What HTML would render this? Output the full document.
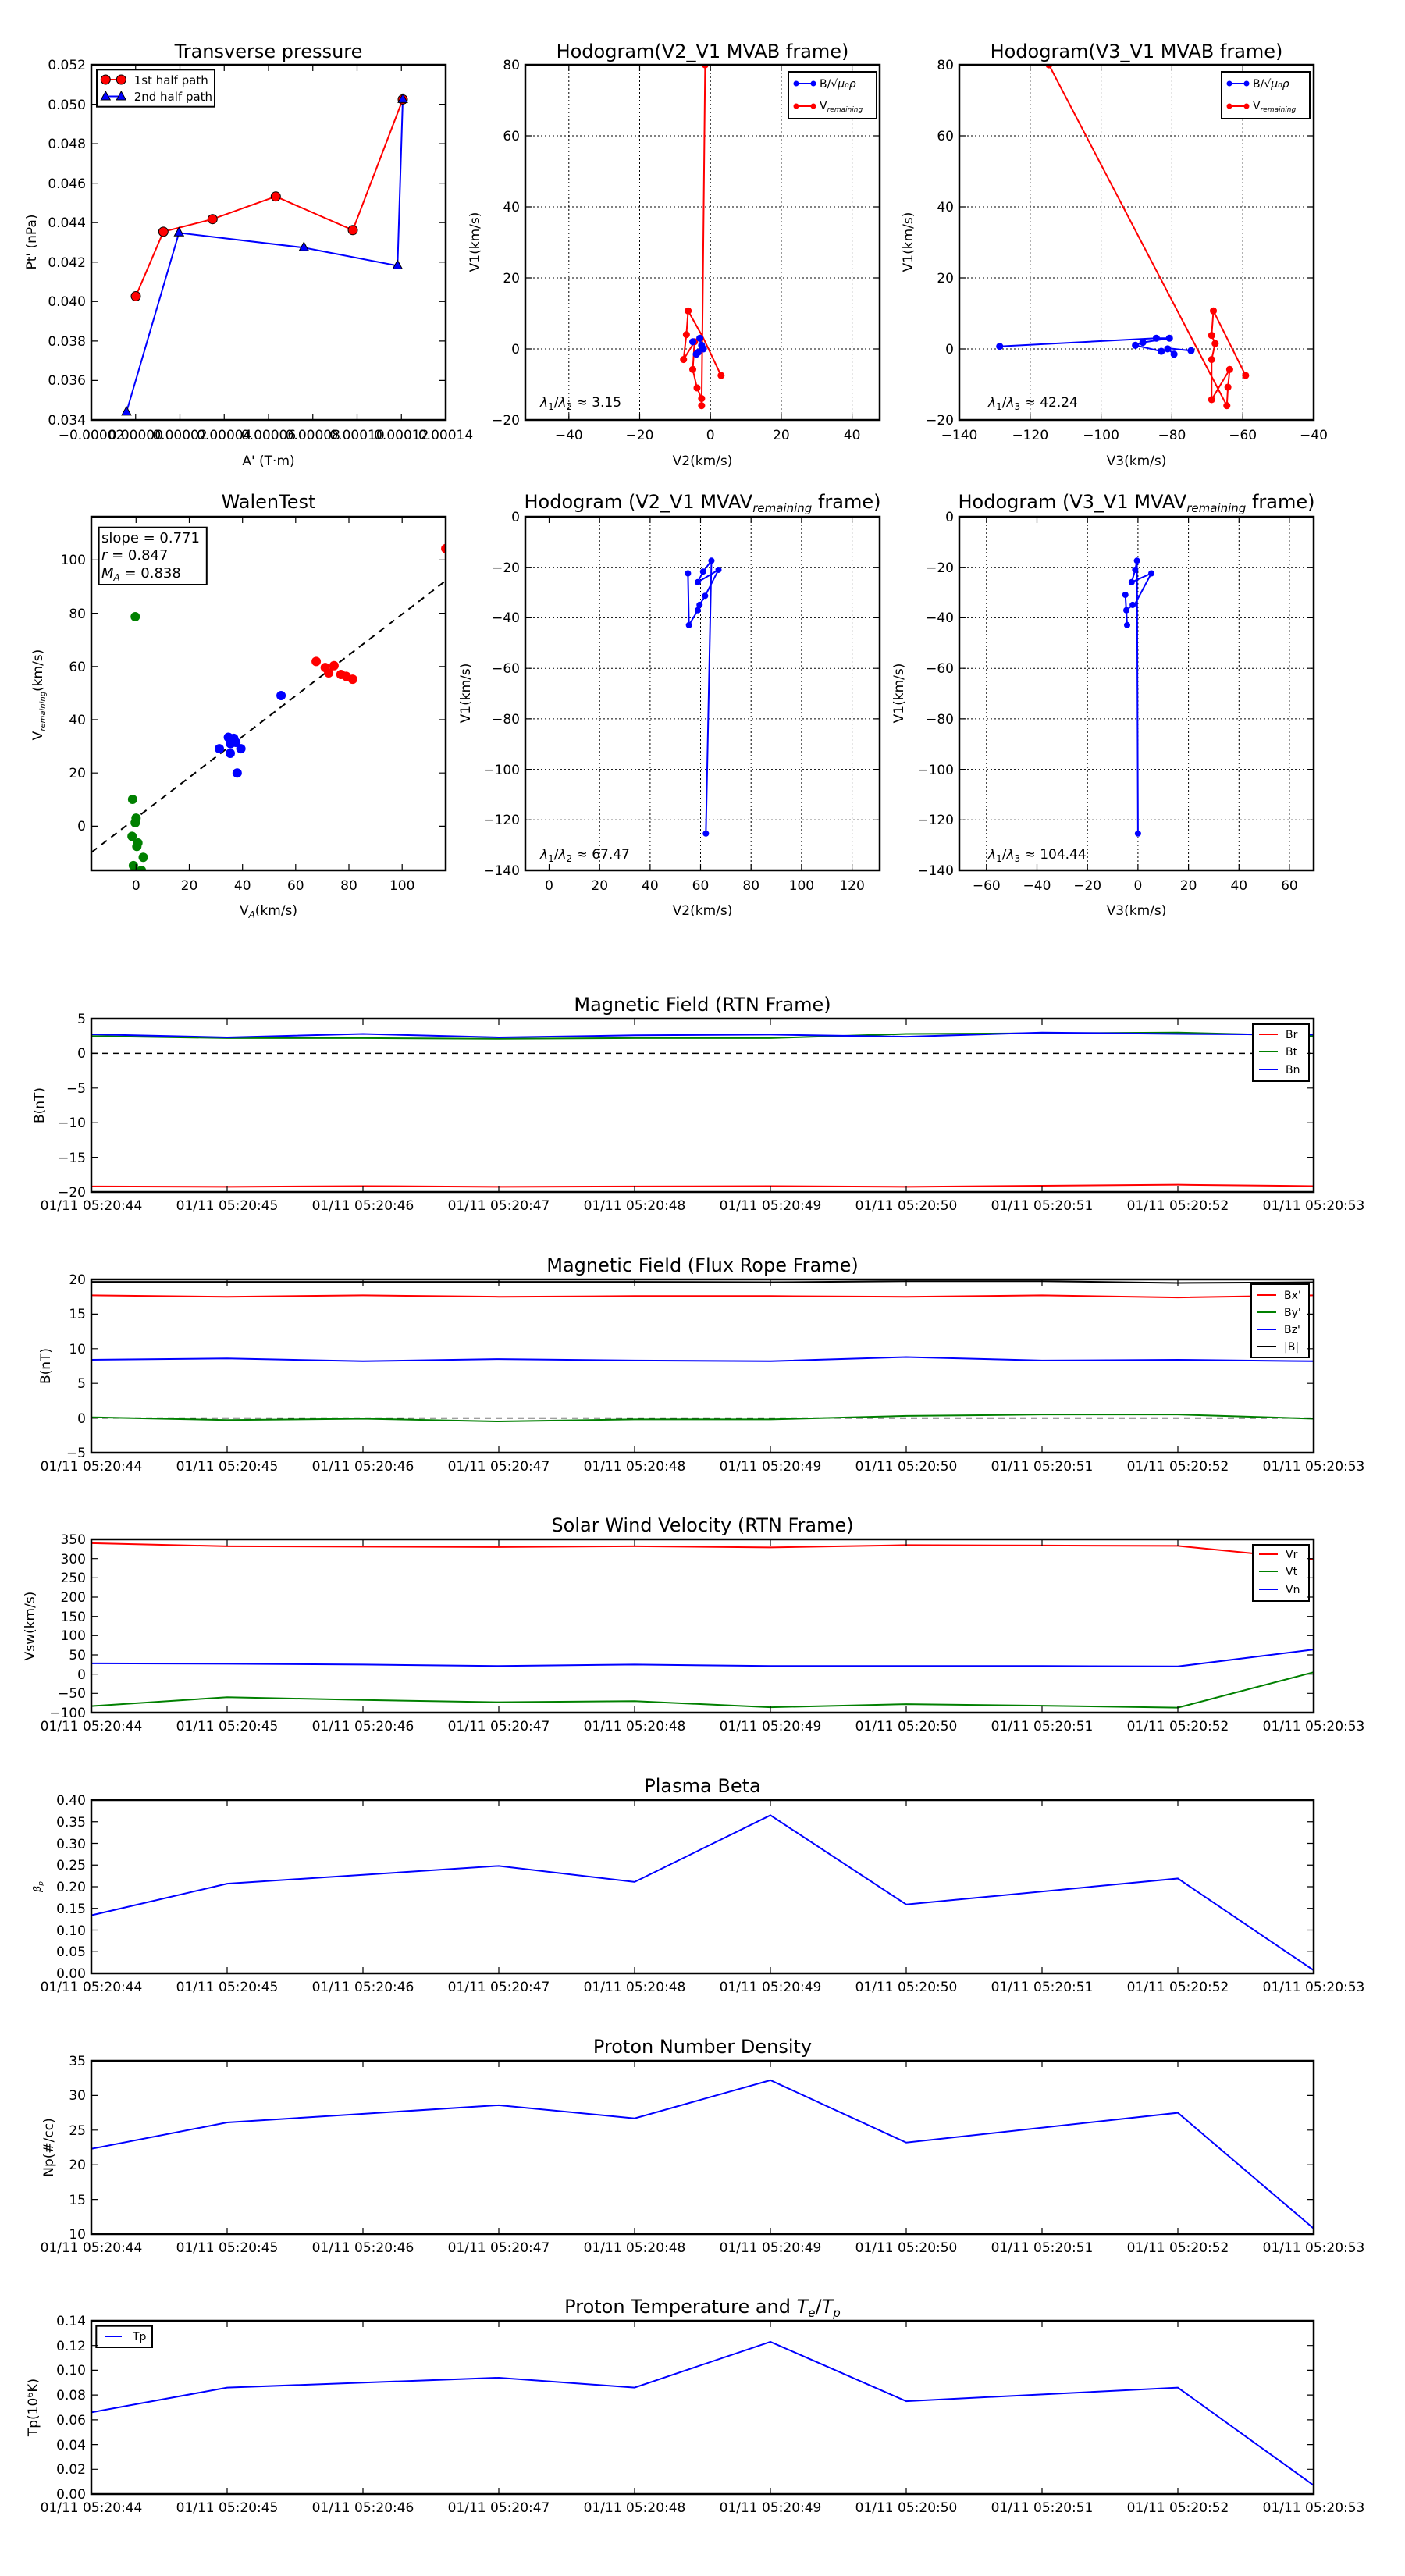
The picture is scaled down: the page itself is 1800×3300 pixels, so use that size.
<!DOCTYPE html>
<html><head><meta charset="utf-8"><style>
html,body{margin:0;padding:0;background:#fff}
svg{display:block}
text{font-family:"DejaVu Sans","Liberation Sans",sans-serif;fill:#000}
.t{font-size:17px}
.ti{font-size:24px}
.ax{fill:none;stroke:#000;stroke-width:2.5}
.tk{stroke:#000;stroke-width:1.2;fill:none}
.gr{stroke:#000;stroke-width:1;stroke-dasharray:2,3;fill:none}
.dl{fill:none;stroke-width:2;vector-effect:non-scaling-stroke}
</style></head><body>
<svg width="1800" height="3300" viewBox="0 0 1800 3300" xmlns="http://www.w3.org/2000/svg">
<defs>
<clipPath id="c4"><rect x="117" y="662" width="454" height="453"/></clipPath>
<clipPath id="c2"><rect x="673" y="83" width="454" height="455"/></clipPath>
<clipPath id="c3"><rect x="1229" y="83" width="454" height="455"/></clipPath>
</defs>

<!-- ============ PLOT 1: Transverse pressure ============ -->
<text class="ti" x="344" y="74" text-anchor="middle">Transverse pressure</text>
<path class="tk" d="M173.75,538v-8M230.5,538v-8M287.25,538v-8M344,538v-8M400.75,538v-8M457.5,538v-8M514.25,538v-8M173.75,83v8M230.5,83v8M287.25,83v8M344,83v8M400.75,83v8M457.5,83v8M514.25,83v8
M117,487.4h8M117,436.9h8M117,386.3h8M117,335.8h8M117,285.2h8M117,234.7h8M117,184.1h8M117,133.6h8M571,487.4h-8M571,436.9h-8M571,386.3h-8M571,335.8h-8M571,285.2h-8M571,234.7h-8M571,184.1h-8M571,133.6h-8"/>
<g class="t" text-anchor="end">
<text x="110" y="544">0.034</text><text x="110" y="493">0.036</text><text x="110" y="443">0.038</text><text x="110" y="392">0.040</text><text x="110" y="342">0.042</text><text x="110" y="291">0.044</text><text x="110" y="241">0.046</text><text x="110" y="190">0.048</text><text x="110" y="140">0.050</text><text x="110" y="89">0.052</text>
</g>
<g class="t" text-anchor="middle">
<text x="117" y="563">−0.00002</text><text x="173.75" y="563">0.00000</text><text x="230.5" y="563">0.00002</text><text x="287.25" y="563">0.00004</text><text x="344" y="563">0.00006</text><text x="400.75" y="563">0.00008</text><text x="457.5" y="563">0.00010</text><text x="514.25" y="563">0.00012</text><text x="571" y="563">0.00014</text>
</g>
<text class="t" x="344" y="596" text-anchor="middle">A' (T·m)</text>
<text class="t" x="46" y="310" text-anchor="middle" transform="rotate(-90 46 310)">Pt' (nPa)</text>
<polyline fill="none" stroke="#f00" stroke-width="2" points="174,379.5 209.3,296.9 272.3,280.7 353.3,251.7 452,294.8 516,127.4"/>
<polyline fill="none" stroke="#00f" stroke-width="2" points="162,527.9 229.3,298.3 389.3,317.3 509.3,340.4 516,127.4"/>
<g fill="#f00" stroke="#000" stroke-width="1">
<circle cx="174" cy="379.5" r="6"/><circle cx="209.3" cy="296.9" r="6"/><circle cx="272.3" cy="280.7" r="6"/><circle cx="353.3" cy="251.7" r="6"/><circle cx="452" cy="294.8" r="6"/><circle cx="516" cy="127.4" r="6"/>
</g>
<g fill="#00f" stroke="#000" stroke-width="1">
<polygon points="162,520.9 168,531.9 156,531.9"/><polygon points="229.3,291.3 235.3,302.3 223.3,302.3"/><polygon points="389.3,310.3 395.3,321.3 383.3,321.3"/><polygon points="509.3,333.4 515.3,344.4 503.3,344.4"/><polygon points="516,120.4 522,131.4 510,131.4"/>
</g>
<rect x="124" y="89.3" width="151" height="47.4" fill="#fff" stroke="#000" stroke-width="2"/>
<line x1="135.3" y1="102" x2="155.3" y2="102" stroke="#f00" stroke-width="2"/>
<circle cx="135.3" cy="102" r="6" fill="#f00" stroke="#000"/><circle cx="155.3" cy="102" r="6" fill="#f00" stroke="#000"/>
<line x1="135.3" y1="123.5" x2="155.3" y2="123.5" stroke="#00f" stroke-width="2"/>
<polygon points="135.3,117 141.3,128 129.3,128" fill="#00f" stroke="#000"/><polygon points="155.3,117 161.3,128 149.3,128" fill="#00f" stroke="#000"/>
<text x="171.7" y="108" style="font-size:15px">1st half path</text>
<text x="171.7" y="129" style="font-size:15px">2nd half path</text>
<rect class="ax" x="117" y="83" width="454" height="455"/>

<!-- ============ PLOT 2: Hodogram V2_V1 MVAB ============ -->
<text class="ti" x="900" y="74" text-anchor="middle">Hodogram(V2_V1 MVAB frame)</text>
<path class="gr" d="M728.8,83V538M819.5,83V538M910.2,83V538M1000.9,83V538M1091.6,83V538M673,174H1127M673,265H1127M673,356H1127M673,447H1127"/>
<g clip-path="url(#c2)">
<g transform="translate(910.2,446.9) scale(4.535,-4.548)">
<polyline class="dl" stroke="#f00" points="-1.5,80 -2.5,-16 -2.5,-14 -3.8,-11 -5,-5.8 -4.5,2 -7.6,-3 -6.8,4 -6.3,10.7 -2,3 3,-7.5"/>
<polyline class="dl" stroke="#00f" points="-5,2 -3,3 -2.5,1 -3.5,-1 -2,0 -4,-1.5 -2.5,0.5 -3,2.5"/>
<g fill="#f00"><ellipse cx="-1.5" cy="80" rx="1" ry="1"/><ellipse cx="-2.5" cy="-16" rx="1" ry="1"/><ellipse cx="-2.5" cy="-14" rx="1" ry="1"/><ellipse cx="-3.8" cy="-11" rx="1" ry="1"/><ellipse cx="-5" cy="-5.8" rx="1" ry="1"/><ellipse cx="-4.5" cy="2" rx="1" ry="1"/><ellipse cx="-7.6" cy="-3" rx="1" ry="1"/><ellipse cx="-6.8" cy="4" rx="1" ry="1"/><ellipse cx="-6.3" cy="10.7" rx="1" ry="1"/><ellipse cx="3" cy="-7.5" rx="1" ry="1"/></g>
<g fill="#00f"><ellipse cx="-5" cy="2" rx="1" ry="1"/><ellipse cx="-3" cy="3" rx="1" ry="1"/><ellipse cx="-2.5" cy="1" rx="1" ry="1"/><ellipse cx="-3.5" cy="-1" rx="1" ry="1"/><ellipse cx="-2" cy="0" rx="1" ry="1"/><ellipse cx="-4" cy="-1.5" rx="1" ry="1"/></g>
</g></g>
<path class="tk" d="M728.8,538v-8M819.5,538v-8M910.2,538v-8M1000.9,538v-8M1091.6,538v-8M728.8,83v8M819.5,83v8M910.2,83v8M1000.9,83v8M1091.6,83v8M673,174h8M673,265h8M673,356h8M673,447h8M1127,174h-8M1127,265h-8M1127,356h-8M1127,447h-8"/>
<g class="t" text-anchor="middle"><text x="728.8" y="563">−40</text><text x="819.5" y="563">−20</text><text x="910.2" y="563">0</text><text x="1000.9" y="563">20</text><text x="1091.6" y="563">40</text></g>
<g class="t" text-anchor="end"><text x="666" y="544">−20</text><text x="666" y="453">0</text><text x="666" y="362">20</text><text x="666" y="271">40</text><text x="666" y="180">60</text><text x="666" y="89">80</text></g>
<text class="t" x="900" y="596" text-anchor="middle">V2(km/s)</text>
<text class="t" x="614" y="310" text-anchor="middle" transform="rotate(-90 614 310)">V1(km/s)</text>
<text class="t" x="692" y="521"><tspan font-style="italic">λ</tspan><tspan font-size="12" dy="4">1</tspan><tspan dy="-4">/</tspan><tspan font-style="italic">λ</tspan><tspan font-size="12" dy="4">2</tspan><tspan dy="-4"> ≈ 3.15</tspan></text>
<rect x="1010" y="92" width="113" height="60" fill="#fff" stroke="#000" stroke-width="2"/>
<line x1="1020" y1="107" x2="1042" y2="107" stroke="#00f" stroke-width="2"/><circle cx="1020" cy="107" r="3.5" fill="#00f"/><circle cx="1042" cy="107" r="3.5" fill="#00f"/>
<line x1="1020" y1="136" x2="1042" y2="136" stroke="#f00" stroke-width="2"/><circle cx="1020" cy="136" r="3.5" fill="#f00"/><circle cx="1042" cy="136" r="3.5" fill="#f00"/>
<text x="1050" y="112" style="font-size:14px">B/√<tspan font-style="italic">μ₀ρ</tspan></text>
<text x="1050" y="140" style="font-size:14px">V<tspan font-size="9" font-style="italic" dy="3">remaining</tspan></text>
<rect class="ax" x="673" y="83" width="454" height="455"/>

<!-- ============ PLOT 3: Hodogram V3_V1 MVAB ============ -->
<text class="ti" x="1456" y="74" text-anchor="middle">Hodogram(V3_V1 MVAB frame)</text>
<path class="gr" d="M1319.8,83V538M1410.6,83V538M1501.4,83V538M1592.2,83V538M1229,174H1683M1229,265H1683M1229,356H1683M1229,447H1683"/>
<g clip-path="url(#c3)">
<g transform="translate(1864.6,446.9) scale(4.54,-4.548)">
<polyline class="dl" stroke="#f00" points="-114.7,80 -64.5,-16 -64.2,-10.8 -63.7,-5.8 -68.8,-14.3 -68.8,-3 -67.8,1.5 -68.8,3.8 -68.3,10.7 -59.2,-7.5"/>
<polyline class="dl" stroke="#00f" points="-128.6,0.7 -84.4,3 -80.7,3 -88.2,1.8 -90.3,1 -83,-0.7 -81.2,0 -79.4,-1.5 -81.5,0.2 -74.6,-0.5"/>
<g fill="#f00"><ellipse cx="-114.7" cy="80" rx="1" ry="1"/><ellipse cx="-64.5" cy="-16" rx="1" ry="1"/><ellipse cx="-64.2" cy="-10.8" rx="1" ry="1"/><ellipse cx="-63.7" cy="-5.8" rx="1" ry="1"/><ellipse cx="-68.8" cy="-14.3" rx="1" ry="1"/><ellipse cx="-68.8" cy="-3" rx="1" ry="1"/><ellipse cx="-67.8" cy="1.5" rx="1" ry="1"/><ellipse cx="-68.8" cy="3.8" rx="1" ry="1"/><ellipse cx="-68.3" cy="10.7" rx="1" ry="1"/><ellipse cx="-59.2" cy="-7.5" rx="1" ry="1"/></g>
<g fill="#00f"><ellipse cx="-128.6" cy="0.7" rx="1" ry="1"/><ellipse cx="-84.4" cy="3" rx="1" ry="1"/><ellipse cx="-80.7" cy="3" rx="1" ry="1"/><ellipse cx="-88.2" cy="1.8" rx="1" ry="1"/><ellipse cx="-90.3" cy="1" rx="1" ry="1"/><ellipse cx="-83" cy="-0.7" rx="1" ry="1"/><ellipse cx="-81.2" cy="0" rx="1" ry="1"/><ellipse cx="-79.4" cy="-1.5" rx="1" ry="1"/><ellipse cx="-74.6" cy="-0.5" rx="1" ry="1"/></g>
</g></g>
<path class="tk" d="M1319.8,538v-8M1410.6,538v-8M1501.4,538v-8M1592.2,538v-8M1319.8,83v8M1410.6,83v8M1501.4,83v8M1592.2,83v8M1229,174h8M1229,265h8M1229,356h8M1229,447h8M1683,174h-8M1683,265h-8M1683,356h-8M1683,447h-8"/>
<g class="t" text-anchor="middle"><text x="1229" y="563">−140</text><text x="1319.8" y="563">−120</text><text x="1410.6" y="563">−100</text><text x="1501.4" y="563">−80</text><text x="1592.2" y="563">−60</text><text x="1683" y="563">−40</text></g>
<g class="t" text-anchor="end"><text x="1222" y="544">−20</text><text x="1222" y="453">0</text><text x="1222" y="362">20</text><text x="1222" y="271">40</text><text x="1222" y="180">60</text><text x="1222" y="89">80</text></g>
<text class="t" x="1456" y="596" text-anchor="middle">V3(km/s)</text>
<text class="t" x="1169" y="310" text-anchor="middle" transform="rotate(-90 1169 310)">V1(km/s)</text>
<text class="t" x="1266" y="521"><tspan font-style="italic">λ</tspan><tspan font-size="12" dy="4">1</tspan><tspan dy="-4">/</tspan><tspan font-style="italic">λ</tspan><tspan font-size="12" dy="4">3</tspan><tspan dy="-4"> ≈ 42.24</tspan></text>
<rect x="1565" y="92" width="113" height="60" fill="#fff" stroke="#000" stroke-width="2"/>
<line x1="1575" y1="107" x2="1597" y2="107" stroke="#00f" stroke-width="2"/><circle cx="1575" cy="107" r="3.5" fill="#00f"/><circle cx="1597" cy="107" r="3.5" fill="#00f"/>
<line x1="1575" y1="136" x2="1597" y2="136" stroke="#f00" stroke-width="2"/><circle cx="1575" cy="136" r="3.5" fill="#f00"/><circle cx="1597" cy="136" r="3.5" fill="#f00"/>
<text x="1605" y="112" style="font-size:14px">B/√<tspan font-style="italic">μ₀ρ</tspan></text>
<text x="1605" y="140" style="font-size:14px">V<tspan font-size="9" font-style="italic" dy="3">remaining</tspan></text>
<rect class="ax" x="1229" y="83" width="454" height="455"/>

<!-- ============ PLOT 4: WalenTest ============ -->
<text class="ti" x="344" y="651" text-anchor="middle">WalenTest</text>
<g clip-path="url(#c4)">
<line x1="117" y1="1092" x2="571" y2="744" stroke="#000" stroke-width="2" stroke-dasharray="9,7"/>
<g transform="translate(174.3,1058.4) scale(3.409,-3.41)">
<g fill="#008000"><ellipse cx="-0.3" cy="78.7" rx="1.76" ry="1.76"/><ellipse cx="-1.3" cy="10.1" rx="1.76" ry="1.76"/><ellipse cx="0" cy="3" rx="1.76" ry="1.76"/><ellipse cx="-0.3" cy="1.3" rx="1.76" ry="1.76"/><ellipse cx="-1.5" cy="-3.8" rx="1.76" ry="1.76"/><ellipse cx="0.7" cy="-6.3" rx="1.76" ry="1.76"/><ellipse cx="0.3" cy="-7.6" rx="1.76" ry="1.76"/><ellipse cx="2.7" cy="-11.7" rx="1.76" ry="1.76"/><ellipse cx="-1" cy="-14.8" rx="1.76" ry="1.76"/><ellipse cx="2" cy="-16.6" rx="1.76" ry="1.76"/></g>
<g fill="#00f"><ellipse cx="54.5" cy="49.1" rx="1.76" ry="1.76"/><ellipse cx="34.7" cy="33.4" rx="1.76" ry="1.76"/><ellipse cx="36.7" cy="33" rx="1.76" ry="1.76"/><ellipse cx="35.5" cy="31" rx="1.76" ry="1.76"/><ellipse cx="37.5" cy="31.5" rx="1.76" ry="1.76"/><ellipse cx="31.3" cy="29.1" rx="1.76" ry="1.76"/><ellipse cx="39.4" cy="29.1" rx="1.76" ry="1.76"/><ellipse cx="35.4" cy="27.4" rx="1.76" ry="1.76"/><ellipse cx="38" cy="20" rx="1.76" ry="1.76"/></g>
<g fill="#f00"><ellipse cx="67.7" cy="61.9" rx="1.76" ry="1.76"/><ellipse cx="71.1" cy="59.6" rx="1.76" ry="1.76"/><ellipse cx="72.4" cy="57.6" rx="1.76" ry="1.76"/><ellipse cx="74.4" cy="60.3" rx="1.76" ry="1.76"/><ellipse cx="77" cy="57" rx="1.76" ry="1.76"/><ellipse cx="79" cy="56.3" rx="1.76" ry="1.76"/><ellipse cx="81.4" cy="55.2" rx="1.76" ry="1.76"/><ellipse cx="116.4" cy="104.3" rx="1.76" ry="1.76"/></g>
</g></g>
<path class="tk" d="M174.3,1115v-8M242.5,1115v-8M310.7,1115v-8M378.8,1115v-8M447,1115v-8M515.2,1115v-8M174.3,662v8M242.5,662v8M310.7,662v8M378.8,662v8M447,662v8M515.2,662v8M117,1058.4h8M117,990.2h8M117,922h8M117,853.8h8M117,785.6h8M117,717.4h8M571,1058.4h-8M571,990.2h-8M571,922h-8M571,853.8h-8M571,785.6h-8M571,717.4h-8"/>
<g class="t" text-anchor="middle"><text x="174.3" y="1140">0</text><text x="242.5" y="1140">20</text><text x="310.7" y="1140">40</text><text x="378.8" y="1140">60</text><text x="447" y="1140">80</text><text x="515.2" y="1140">100</text></g>
<g class="t" text-anchor="end"><text x="110" y="1064">0</text><text x="110" y="996">20</text><text x="110" y="928">40</text><text x="110" y="860">60</text><text x="110" y="792">80</text><text x="110" y="723">100</text></g>
<text class="t" x="344" y="1172" text-anchor="middle">V<tspan font-size="12" font-style="italic" dy="4">A</tspan><tspan dy="-4">(km/s)</tspan></text>
<text class="t" x="54" y="890" text-anchor="middle" transform="rotate(-90 54 890)">V<tspan font-size="10" font-style="italic" dy="4">remaining</tspan><tspan dy="-4">(km/s)</tspan></text>
<rect x="126.6" y="675.7" width="138.2" height="73.3" fill="#fff" stroke="#000" stroke-width="2"/>
<text x="130" y="695" style="font-size:18px">slope = 0.771</text>
<text x="130" y="717" style="font-size:18px"><tspan font-style="italic">r</tspan> = 0.847</text>
<text x="130" y="740" style="font-size:18px"><tspan font-style="italic">M</tspan><tspan font-size="12" font-style="italic" dy="4">A</tspan><tspan dy="-4"> = 0.838</tspan></text>
<rect class="ax" x="117" y="662" width="454" height="453"/>

<!-- ============ PLOT 5 ============ -->
<text class="ti" x="900" y="651" text-anchor="middle">Hodogram (V2_V1 MVAV<tspan font-size="15" font-style="italic" dy="5">remaining</tspan><tspan dy="-5"> frame)</tspan></text>
<path class="gr" d="M768.2,662V1115M832.9,662V1115M897.5,662V1115M962.2,662V1115M1026.9,662V1115M1091.6,662V1115M673,726.7H1127M673,791.4H1127M673,856.2H1127M673,920.9H1127M673,985.6H1127M673,1050.3H1127"/>
<g transform="translate(703.5,662) scale(3.234,-3.236)">
<polyline class="dl" stroke="#00f" points="55,-22.4 55.4,-42.9 58.9,-37 59.6,-34.9 61.8,-31.3 67.1,-21 58.9,-25.9 61,-21.7 64.3,-17.4 62.1,-125.4"/>
<g fill="#00f"><ellipse cx="55" cy="-22.4" rx="1.24" ry="1.24"/><ellipse cx="55.4" cy="-42.9" rx="1.24" ry="1.24"/><ellipse cx="58.9" cy="-37" rx="1.24" ry="1.24"/><ellipse cx="59.6" cy="-34.9" rx="1.24" ry="1.24"/><ellipse cx="61.8" cy="-31.3" rx="1.24" ry="1.24"/><ellipse cx="67.1" cy="-21" rx="1.24" ry="1.24"/><ellipse cx="58.9" cy="-25.9" rx="1.24" ry="1.24"/><ellipse cx="61" cy="-21.7" rx="1.24" ry="1.24"/><ellipse cx="64.3" cy="-17.4" rx="1.24" ry="1.24"/><ellipse cx="62.1" cy="-125.4" rx="1.24" ry="1.24"/></g>
</g>
<path class="tk" d="M703.5,1115v-8M768.2,1115v-8M832.9,1115v-8M897.5,1115v-8M962.2,1115v-8M1026.9,1115v-8M1091.6,1115v-8M703.5,662v8M768.2,662v8M832.9,662v8M897.5,662v8M962.2,662v8M1026.9,662v8M1091.6,662v8M673,726.7h8M673,791.4h8M673,856.2h8M673,920.9h8M673,985.6h8M673,1050.3h8M1127,726.7h-8M1127,791.4h-8M1127,856.2h-8M1127,920.9h-8M1127,985.6h-8M1127,1050.3h-8"/>
<g class="t" text-anchor="middle"><text x="703.5" y="1140">0</text><text x="768.2" y="1140">20</text><text x="832.9" y="1140">40</text><text x="897.5" y="1140">60</text><text x="962.2" y="1140">80</text><text x="1026.9" y="1140">100</text><text x="1091.6" y="1140">120</text></g>
<g class="t" text-anchor="end"><text x="666" y="668">0</text><text x="666" y="733">−20</text><text x="666" y="797">−40</text><text x="666" y="862">−60</text><text x="666" y="927">−80</text><text x="666" y="992">−100</text><text x="666" y="1056">−120</text><text x="666" y="1121">−140</text></g>
<text class="t" x="900" y="1172" text-anchor="middle">V2(km/s)</text>
<text class="t" x="602" y="888" text-anchor="middle" transform="rotate(-90 602 888)">V1(km/s)</text>
<text class="t" x="692" y="1100"><tspan font-style="italic">λ</tspan><tspan font-size="12" dy="4">1</tspan><tspan dy="-4">/</tspan><tspan font-style="italic">λ</tspan><tspan font-size="12" dy="4">2</tspan><tspan dy="-4"> ≈ 67.47</tspan></text>
<rect class="ax" x="673" y="662" width="454" height="453"/>

<!-- ============ PLOT 6 ============ -->
<text class="ti" x="1456" y="651" text-anchor="middle">Hodogram (V3_V1 MVAV<tspan font-size="15" font-style="italic" dy="5">remaining</tspan><tspan dy="-5"> frame)</tspan></text>
<path class="gr" d="M1263.8,662V1115M1328.5,662V1115M1393.2,662V1115M1457.9,662V1115M1522.6,662V1115M1587.3,662V1115M1651.9,662V1115M1229,726.7H1683M1229,791.4H1683M1229,856.2H1683M1229,920.9H1683M1229,985.6H1683M1229,1050.3H1683"/>
<g transform="translate(1457.9,662) scale(3.234,-3.236)">
<polyline class="dl" stroke="#00f" points="-5,-30.9 -4.3,-42.9 -4.6,-37 -2.1,-34.9 -0.9,-34 5.3,-22.4 -2.5,-25.9 -1.1,-21 -0.4,-17.4 0,-125.4"/>
<g fill="#00f"><ellipse cx="-5" cy="-30.9" rx="1.24" ry="1.24"/><ellipse cx="-4.3" cy="-42.9" rx="1.24" ry="1.24"/><ellipse cx="-4.6" cy="-37" rx="1.24" ry="1.24"/><ellipse cx="-2.1" cy="-34.9" rx="1.24" ry="1.24"/><ellipse cx="5.3" cy="-22.4" rx="1.24" ry="1.24"/><ellipse cx="-2.5" cy="-25.9" rx="1.24" ry="1.24"/><ellipse cx="-1.1" cy="-21" rx="1.24" ry="1.24"/><ellipse cx="-0.4" cy="-17.4" rx="1.24" ry="1.24"/><ellipse cx="0" cy="-125.4" rx="1.24" ry="1.24"/></g>
</g>
<path class="tk" d="M1263.8,1115v-8M1328.5,1115v-8M1393.2,1115v-8M1457.9,1115v-8M1522.6,1115v-8M1587.3,1115v-8M1651.9,1115v-8M1263.8,662v8M1328.5,662v8M1393.2,662v8M1457.9,662v8M1522.6,662v8M1587.3,662v8M1651.9,662v8M1229,726.7h8M1229,791.4h8M1229,856.2h8M1229,920.9h8M1229,985.6h8M1229,1050.3h8M1683,726.7h-8M1683,791.4h-8M1683,856.2h-8M1683,920.9h-8M1683,985.6h-8M1683,1050.3h-8"/>
<g class="t" text-anchor="middle"><text x="1263.8" y="1140">−60</text><text x="1328.5" y="1140">−40</text><text x="1393.2" y="1140">−20</text><text x="1457.9" y="1140">0</text><text x="1522.6" y="1140">20</text><text x="1587.3" y="1140">40</text><text x="1651.9" y="1140">60</text></g>
<g class="t" text-anchor="end"><text x="1222" y="668">0</text><text x="1222" y="733">−20</text><text x="1222" y="797">−40</text><text x="1222" y="862">−60</text><text x="1222" y="927">−80</text><text x="1222" y="992">−100</text><text x="1222" y="1056">−120</text><text x="1222" y="1121">−140</text></g>
<text class="t" x="1456" y="1172" text-anchor="middle">V3(km/s)</text>
<text class="t" x="1157" y="888" text-anchor="middle" transform="rotate(-90 1157 888)">V1(km/s)</text>
<text class="t" x="1266" y="1100"><tspan font-style="italic">λ</tspan><tspan font-size="12" dy="4">1</tspan><tspan dy="-4">/</tspan><tspan font-style="italic">λ</tspan><tspan font-size="12" dy="4">3</tspan><tspan dy="-4"> ≈ 104.44</tspan></text>
<rect class="ax" x="1229" y="662" width="454" height="453"/>

<!-- ============ TIME PLOT 1 ============ -->
<text class="ti" x="900" y="1295" text-anchor="middle">Magnetic Field (RTN Frame)</text>
<line x1="117" y1="1349.4" x2="1683" y2="1349.4" stroke="#000" stroke-width="1.5" stroke-dasharray="8,6"/>
<g transform="translate(117,1349.4) scale(174,-8.88)">
<polyline class="dl" stroke="#f00" points="0,-19.2 1,-19.25 2,-19.15 3,-19.25 4,-19.2 5,-19.15 6,-19.25 7,-19.1 8,-18.95 9,-19.15"/>
<polyline class="dl" stroke="#008000" points="0,2.5 1,2.2 2,2.2 3,2.1 4,2.2 5,2.2 6,2.8 7,2.9 8,3.0 9,2.5"/>
<polyline class="dl" stroke="#00f" points="0,2.75 1,2.3 2,2.8 3,2.3 4,2.6 5,2.7 6,2.4 7,3.0 8,2.8 9,2.7"/>
</g>
<rect x="1605" y="1312" width="72" height="73" fill="#fff" stroke="#000" stroke-width="2"/>
<line x1="1613" y1="1325" x2="1637" y2="1325" stroke="#f00" stroke-width="2"/><line x1="1613" y1="1347" x2="1637" y2="1347" stroke="#008000" stroke-width="2"/><line x1="1613" y1="1370" x2="1637" y2="1370" stroke="#00f" stroke-width="2"/>
<g style="font-size:14px"><text x="1647" y="1330">Br</text><text x="1647" y="1352">Bt</text><text x="1647" y="1375">Bn</text></g>
<g class="t" text-anchor="end"><text x="110" y="1311">5</text><text x="110" y="1355">0</text><text x="110" y="1400">−5</text><text x="110" y="1444">−10</text><text x="110" y="1489">−15</text><text x="110" y="1533">−20</text></g>
<path class="tk" d="M117,1349.4h8M117,1393.8h8M117,1438.2h8M117,1482.6h8M1683,1349.4h-8M1683,1393.8h-8M1683,1438.2h-8M1683,1482.6h-8M291,1527v-8M465,1527v-8M639,1527v-8M813,1527v-8M987,1527v-8M1161,1527v-8M1335,1527v-8M1509,1527v-8M291,1305v8M465,1305v8M639,1305v8M813,1305v8M987,1305v8M1161,1305v8M1335,1305v8M1509,1305v8"/>
<g class="t" text-anchor="middle"><text x="117" y="1550">01/11 05:20:44</text><text x="291" y="1550">01/11 05:20:45</text><text x="465" y="1550">01/11 05:20:46</text><text x="639" y="1550">01/11 05:20:47</text><text x="813" y="1550">01/11 05:20:48</text><text x="987" y="1550">01/11 05:20:49</text><text x="1161" y="1550">01/11 05:20:50</text><text x="1335" y="1550">01/11 05:20:51</text><text x="1509" y="1550">01/11 05:20:52</text><text x="1683" y="1550">01/11 05:20:53</text></g>
<text class="t" x="56" y="1416" text-anchor="middle" transform="rotate(-90 56 1416)">B(nT)</text>
<rect class="ax" x="117" y="1305" width="1566" height="222"/>

<!-- ============ TIME PLOT 2 ============ -->
<text class="ti" x="900" y="1629" text-anchor="middle">Magnetic Field (Flux Rope Frame)</text>
<line x1="117" y1="1816.6" x2="1683" y2="1816.6" stroke="#000" stroke-width="1.5" stroke-dasharray="8,6"/>
<g transform="translate(117,1816.6) scale(174,-8.88)">
<polyline class="dl" stroke="#000" points="0,19.65 1,19.65 2,19.65 3,19.65 4,19.65 5,19.6 6,19.75 7,19.75 8,19.5 9,19.6"/>
<polyline class="dl" stroke="#f00" points="0,17.7 1,17.5 2,17.7 3,17.5 4,17.6 5,17.6 6,17.5 7,17.7 8,17.4 9,17.7"/>
<polyline class="dl" stroke="#00f" points="0,8.4 1,8.6 2,8.2 3,8.5 4,8.3 5,8.2 6,8.8 7,8.3 8,8.4 9,8.2"/>
<polyline class="dl" stroke="#008000" points="0,0.1 1,-0.3 2,-0.1 3,-0.5 4,-0.2 5,-0.2 6,0.3 7,0.5 8,0.5 9,-0.1"/>
</g>
<rect x="1603" y="1645" width="74" height="94" fill="#fff" stroke="#000" stroke-width="2"/>
<line x1="1611" y1="1659" x2="1635" y2="1659" stroke="#f00" stroke-width="2"/><line x1="1611" y1="1681" x2="1635" y2="1681" stroke="#008000" stroke-width="2"/><line x1="1611" y1="1703" x2="1635" y2="1703" stroke="#00f" stroke-width="2"/><line x1="1611" y1="1725" x2="1635" y2="1725" stroke="#000" stroke-width="2"/>
<g style="font-size:14px"><text x="1645" y="1664">Bx'</text><text x="1645" y="1686">By'</text><text x="1645" y="1708">Bz'</text><text x="1645" y="1730">|B|</text></g>
<g class="t" text-anchor="end"><text x="110" y="1645">20</text><text x="110" y="1689">15</text><text x="110" y="1734">10</text><text x="110" y="1778">5</text><text x="110" y="1823">0</text><text x="110" y="1867">−5</text></g>
<path class="tk" d="M117,1683.4h8M117,1727.8h8M117,1772.2h8M117,1816.6h8M1683,1683.4h-8M1683,1727.8h-8M1683,1772.2h-8M1683,1816.6h-8M291,1861v-8M465,1861v-8M639,1861v-8M813,1861v-8M987,1861v-8M1161,1861v-8M1335,1861v-8M1509,1861v-8M291,1639v8M465,1639v8M639,1639v8M813,1639v8M987,1639v8M1161,1639v8M1335,1639v8M1509,1639v8"/>
<g class="t" text-anchor="middle"><text x="117" y="1884">01/11 05:20:44</text><text x="291" y="1884">01/11 05:20:45</text><text x="465" y="1884">01/11 05:20:46</text><text x="639" y="1884">01/11 05:20:47</text><text x="813" y="1884">01/11 05:20:48</text><text x="987" y="1884">01/11 05:20:49</text><text x="1161" y="1884">01/11 05:20:50</text><text x="1335" y="1884">01/11 05:20:51</text><text x="1509" y="1884">01/11 05:20:52</text><text x="1683" y="1884">01/11 05:20:53</text></g>
<text class="t" x="64" y="1750" text-anchor="middle" transform="rotate(-90 64 1750)">B(nT)</text>
<rect class="ax" x="117" y="1639" width="1566" height="222"/>

<!-- ============ TIME PLOT 3 ============ -->
<text class="ti" x="900" y="1962" text-anchor="middle">Solar Wind Velocity (RTN Frame)</text>
<g transform="translate(117,2144.67) scale(174,-0.49333)">
<polyline class="dl" stroke="#f00" points="0,340 1,332 2,331 3,330 4,332 5,329 6,335 7,334 8,333 9,298"/>
<polyline class="dl" stroke="#008000" points="0,-83 1,-60 2,-67 3,-73 4,-70 5,-86 6,-78 7,-82 8,-87 9,5"/>
<polyline class="dl" stroke="#00f" points="0,28 1,27 2,25 3,21 4,25 5,21 6,21 7,21 8,20 9,64"/>
</g>
<rect x="1605" y="1979" width="72" height="72" fill="#fff" stroke="#000" stroke-width="2"/>
<line x1="1613" y1="1991" x2="1637" y2="1991" stroke="#f00" stroke-width="2"/><line x1="1613" y1="2013" x2="1637" y2="2013" stroke="#008000" stroke-width="2"/><line x1="1613" y1="2036" x2="1637" y2="2036" stroke="#00f" stroke-width="2"/>
<g style="font-size:14px"><text x="1647" y="1996">Vr</text><text x="1647" y="2018">Vt</text><text x="1647" y="2041">Vn</text></g>
<g class="t" text-anchor="end"><text x="110" y="1978">350</text><text x="110" y="2003">300</text><text x="110" y="2027">250</text><text x="110" y="2052">200</text><text x="110" y="2077">150</text><text x="110" y="2101">100</text><text x="110" y="2126">50</text><text x="110" y="2151">0</text><text x="110" y="2175">−50</text><text x="110" y="2200">−100</text></g>
<path class="tk" d="M117,1996.7h8M117,2021.3h8M117,2046h8M117,2070.7h8M117,2095.3h8M117,2120h8M117,2144.7h8M117,2169.3h8M1683,1996.7h-8M1683,2021.3h-8M1683,2046h-8M1683,2070.7h-8M1683,2095.3h-8M1683,2120h-8M1683,2144.7h-8M1683,2169.3h-8M291,2194v-8M465,2194v-8M639,2194v-8M813,2194v-8M987,2194v-8M1161,2194v-8M1335,2194v-8M1509,2194v-8M291,1972v8M465,1972v8M639,1972v8M813,1972v8M987,1972v8M1161,1972v8M1335,1972v8M1509,1972v8"/>
<g class="t" text-anchor="middle"><text x="117" y="2217">01/11 05:20:44</text><text x="291" y="2217">01/11 05:20:45</text><text x="465" y="2217">01/11 05:20:46</text><text x="639" y="2217">01/11 05:20:47</text><text x="813" y="2217">01/11 05:20:48</text><text x="987" y="2217">01/11 05:20:49</text><text x="1161" y="2217">01/11 05:20:50</text><text x="1335" y="2217">01/11 05:20:51</text><text x="1509" y="2217">01/11 05:20:52</text><text x="1683" y="2217">01/11 05:20:53</text></g>
<text class="t" x="44" y="2083" text-anchor="middle" transform="rotate(-90 44 2083)">Vsw(km/s)</text>
<rect class="ax" x="117" y="1972" width="1566" height="222"/>

<!-- ============ TIME PLOT 4 ============ -->
<text class="ti" x="900" y="2296" text-anchor="middle">Plasma Beta</text>
<g transform="translate(117,2528) scale(174,-555)">
<polyline class="dl" stroke="#00f" points="0,0.134 1,0.207 3,0.248 4,0.211 5,0.365 6,0.159 8,0.219 9,0.007"/>
</g>
<g class="t" text-anchor="end"><text x="110" y="2312">0.40</text><text x="110" y="2340">0.35</text><text x="110" y="2368">0.30</text><text x="110" y="2395">0.25</text><text x="110" y="2423">0.20</text><text x="110" y="2451">0.15</text><text x="110" y="2479">0.10</text><text x="110" y="2506">0.05</text><text x="110" y="2534">0.00</text></g>
<path class="tk" d="M117,2333.75h8M117,2361.5h8M117,2389.25h8M117,2417h8M117,2444.75h8M117,2472.5h8M117,2500.25h8M1683,2333.75h-8M1683,2361.5h-8M1683,2389.25h-8M1683,2417h-8M1683,2444.75h-8M1683,2472.5h-8M1683,2500.25h-8M291,2528v-8M465,2528v-8M639,2528v-8M813,2528v-8M987,2528v-8M1161,2528v-8M1335,2528v-8M1509,2528v-8M291,2306v8M465,2306v8M639,2306v8M813,2306v8M987,2306v8M1161,2306v8M1335,2306v8M1509,2306v8"/>
<g class="t" text-anchor="middle"><text x="117" y="2551">01/11 05:20:44</text><text x="291" y="2551">01/11 05:20:45</text><text x="465" y="2551">01/11 05:20:46</text><text x="639" y="2551">01/11 05:20:47</text><text x="813" y="2551">01/11 05:20:48</text><text x="987" y="2551">01/11 05:20:49</text><text x="1161" y="2551">01/11 05:20:50</text><text x="1335" y="2551">01/11 05:20:51</text><text x="1509" y="2551">01/11 05:20:52</text><text x="1683" y="2551">01/11 05:20:53</text></g>
<text x="52" y="2417" style="font-size:13px" font-style="italic" text-anchor="middle" transform="rotate(-90 52 2417)">β<tspan font-size="9" dy="3">p</tspan></text>
<rect class="ax" x="117" y="2306" width="1566" height="222"/>

<!-- ============ TIME PLOT 5 ============ -->
<text class="ti" x="900" y="2630" text-anchor="middle">Proton Number Density</text>
<g transform="translate(117,2950.8) scale(174,-8.88)">
<polyline class="dl" stroke="#00f" points="0,22.3 1,26.1 3,28.6 4,26.7 5,32.2 6,23.2 8,27.5 9,10.8"/>
</g>
<g class="t" text-anchor="end"><text x="110" y="2646">35</text><text x="110" y="2690">30</text><text x="110" y="2735">25</text><text x="110" y="2779">20</text><text x="110" y="2824">15</text><text x="110" y="2868">10</text></g>
<path class="tk" d="M117,2684.4h8M117,2728.8h8M117,2773.2h8M117,2817.6h8M1683,2684.4h-8M1683,2728.8h-8M1683,2773.2h-8M1683,2817.6h-8M291,2862v-8M465,2862v-8M639,2862v-8M813,2862v-8M987,2862v-8M1161,2862v-8M1335,2862v-8M1509,2862v-8M291,2640v8M465,2640v8M639,2640v8M813,2640v8M987,2640v8M1161,2640v8M1335,2640v8M1509,2640v8"/>
<g class="t" text-anchor="middle"><text x="117" y="2885">01/11 05:20:44</text><text x="291" y="2885">01/11 05:20:45</text><text x="465" y="2885">01/11 05:20:46</text><text x="639" y="2885">01/11 05:20:47</text><text x="813" y="2885">01/11 05:20:48</text><text x="987" y="2885">01/11 05:20:49</text><text x="1161" y="2885">01/11 05:20:50</text><text x="1335" y="2885">01/11 05:20:51</text><text x="1509" y="2885">01/11 05:20:52</text><text x="1683" y="2885">01/11 05:20:53</text></g>
<text class="t" x="68" y="2751" text-anchor="middle" transform="rotate(-90 68 2751)">Np(#/cc)</text>
<rect class="ax" x="117" y="2640" width="1566" height="222"/>

<!-- ============ TIME PLOT 6 ============ -->
<text class="ti" x="900" y="2963" text-anchor="middle">Proton Temperature and <tspan font-style="italic">T</tspan><tspan font-size="15" font-style="italic" dy="5">e</tspan><tspan dy="-5">/</tspan><tspan font-style="italic">T</tspan><tspan font-size="15" font-style="italic" dy="5">p</tspan></text>
<g transform="translate(117,3195) scale(174,-1585.7)">
<polyline class="dl" stroke="#00f" points="0,0.066 1,0.086 3,0.094 4,0.086 5,0.123 6,0.075 8,0.086 9,0.007"/>
</g>
<rect x="123.3" y="2979.7" width="71.7" height="27.3" fill="#fff" stroke="#000" stroke-width="2"/>
<line x1="134" y1="2993" x2="156" y2="2993" stroke="#00f" stroke-width="2"/>
<text x="170" y="2998" style="font-size:14px">Tp</text>
<g class="t" text-anchor="end"><text x="110" y="2979">0.14</text><text x="110" y="3011">0.12</text><text x="110" y="3042">0.10</text><text x="110" y="3074">0.08</text><text x="110" y="3106">0.06</text><text x="110" y="3138">0.04</text><text x="110" y="3169">0.02</text><text x="110" y="3201">0.00</text></g>
<path class="tk" d="M117,3004.7h8M117,3036.4h8M117,3068.1h8M117,3099.9h8M117,3131.6h8M117,3163.3h8M1683,3004.7h-8M1683,3036.4h-8M1683,3068.1h-8M1683,3099.9h-8M1683,3131.6h-8M1683,3163.3h-8M291,3195v-8M465,3195v-8M639,3195v-8M813,3195v-8M987,3195v-8M1161,3195v-8M1335,3195v-8M1509,3195v-8M291,2973v8M465,2973v8M639,2973v8M813,2973v8M987,2973v8M1161,2973v8M1335,2973v8M1509,2973v8"/>
<g class="t" text-anchor="middle"><text x="117" y="3218">01/11 05:20:44</text><text x="291" y="3218">01/11 05:20:45</text><text x="465" y="3218">01/11 05:20:46</text><text x="639" y="3218">01/11 05:20:47</text><text x="813" y="3218">01/11 05:20:48</text><text x="987" y="3218">01/11 05:20:49</text><text x="1161" y="3218">01/11 05:20:50</text><text x="1335" y="3218">01/11 05:20:51</text><text x="1509" y="3218">01/11 05:20:52</text><text x="1683" y="3218">01/11 05:20:53</text></g>
<text class="t" x="48" y="3084" text-anchor="middle" transform="rotate(-90 48 3084)">Tp(10<tspan font-size="11" dy="-6">6</tspan><tspan dy="6">K)</tspan></text>
<rect class="ax" x="117" y="2973" width="1566" height="222"/>
</svg>
</body></html>
